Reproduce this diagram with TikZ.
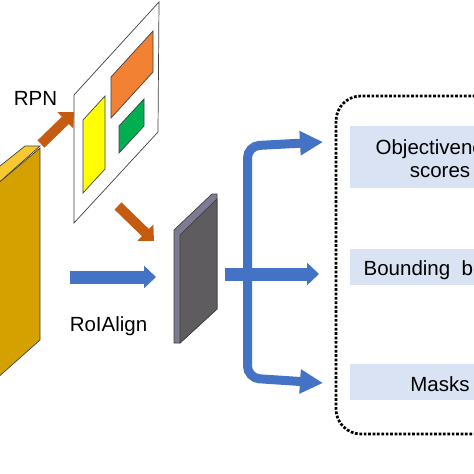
\documentclass[tikz,border=0pt]{standalone}
\usepackage{fontspec}
\setmainfont{Liberation Sans}
\usetikzlibrary{arrows.meta}
\definecolor{gold}{HTML}{D4A100}
\definecolor{goldtop}{HTML}{F7C830}
\definecolor{brownarr}{HTML}{C55A11}
\definecolor{bluearr}{HTML}{4472C4}
\definecolor{boxblue}{HTML}{DAE3F3}
\definecolor{plategray}{HTML}{5F5C60}
\definecolor{plateside}{HTML}{7C7B92}
\definecolor{outl}{HTML}{404040}
\definecolor{rorange}{HTML}{F28133}
\definecolor{ryellow}{HTML}{FFFF00}
\definecolor{rgreen}{HTML}{00B050}
\tikzset{
  brownarrow/.style={draw=brownarr, line width=10pt, -{Triangle[width=22pt,length=12pt]}},
  bluearrow/.style={draw=bluearr, line width=13pt, -{Triangle[width=22pt,length=12pt]}},
  branch/.style={draw=bluearr, line width=9pt, rounded corners=12pt, -{Triangle[width=23pt,length=23pt]}},
  outbox/.style={fill=boxblue, minimum width=180pt, inner sep=0pt},
  txt/.style={font=\fontsize{20.5}{23}\selectfont, inner sep=0pt},
  frame/.style={draw=black, line width=2.7pt, dash pattern=on 2.7pt off 1.7pt, rounded corners=25pt},
  shapeline/.style={draw=outl, line width=0.7pt}
}
\begin{document}
\begin{tikzpicture}[x=1pt, y=-1pt]
\clip (0,0) rectangle (474,474);
\fill[white] (0,0) rectangle (474,474);
% gold feature block
\filldraw[fill=gold, shapeline] (-5,186) -- (40,148) -- (40,340) -- (-5,380) -- cycle;
\filldraw[fill=goldtop, shapeline] (-5,170) -- (25,146) -- (40,146) -- (-5,186) -- cycle;
% image plane with proposals
\filldraw[fill=white, shapeline] (74,95) -- (159,2) -- (158,132) -- (74,223) -- cycle;
\filldraw[fill=rorange, shapeline] (111,77) -- (153,31) -- (153,72) -- (111,118) -- cycle;
\filldraw[fill=ryellow, shapeline] (83,120) -- (105,96) -- (105,169) -- (83,193) -- cycle;
\filldraw[fill=rgreen, shapeline] (119,126) -- (144,99) -- (144,126) -- (119,153) -- cycle;
% RoI feature plate
\filldraw[fill=plateside, shapeline] (174,230) -- (212,194) -- (217,194) -- (217,309) -- (180,343) -- (174,343) -- cycle;
\filldraw[fill=plategray, shapeline] (180,235) -- (217,199) -- (217,309) -- (180,343) -- cycle;
% coordinates for connectors
\coordinate (rpnA) at (41,144);
\coordinate (rpnB) at (74,112);
\coordinate (roiA) at (118,206);
\coordinate (roiB) at (154,241);
\coordinate (alA) at (70,277);
\coordinate (alB) at (156,277);
\coordinate (stemL) at (225,274);
\coordinate (stemM) at (247.5,276);
\coordinate (stemT) at (247.5,146);
\coordinate (stemB) at (247.5,378);
% output frame and boxes
\draw[frame] (336,96) rectangle (620,434);
\node[outbox, minimum height=62pt] (obj) at (440,157) {};
\node[outbox, minimum height=36pt] (bbox) at (440,267) {};
\node[outbox, minimum height=36pt] (mask) at (440,382) {};
\node[txt, anchor=base] (t1) at (440,154) {Objectiveness};
\node[txt, anchor=base] (t2) at (440,177) {scores};
\node[txt, anchor=base] (t3) at (440,275) {Bounding\ \ boxes};
\node[txt, anchor=base] (t4) at (440,391) {Masks};
\node[txt, anchor=base] (rpn) at (35.5,105) {RPN};
\node[txt, anchor=base] (roialign) at (108.5,331) {RoIAlign};
% arrows
\draw[brownarrow] (rpnA) -- (rpnB);
\draw[brownarrow] (roiA) -- (roiB);
\draw[bluearrow] (alA) -- (alB);
\draw[branch] (stemM) -- (stemT) -- (323,142);
\draw[branch] (stemM) -- (stemB) -- (323,383);
\draw[bluearrow] (stemL) -- (319,274);
\end{tikzpicture}
\end{document}
